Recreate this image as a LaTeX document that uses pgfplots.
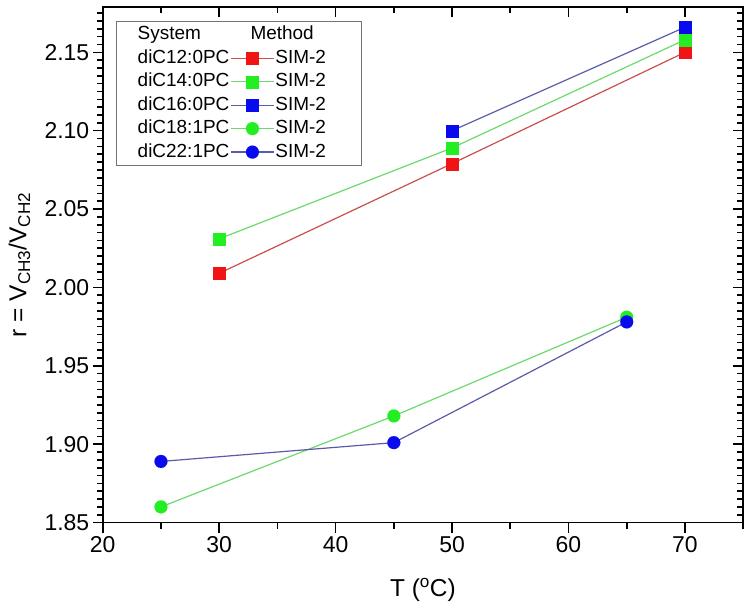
\documentclass[border=0pt]{standalone}
\usepackage{fontspec}
\setmainfont{Liberation Sans}
\usepackage{pgfplots}
\pgfplotsset{compat=1.18}

\definecolor{lred}{HTML}{C94F4F}
\definecolor{mred}{HTML}{F01414}
\definecolor{lgreen}{HTML}{6CD96C}
\definecolor{mgreen}{HTML}{22EE22}
\definecolor{lblue}{HTML}{5A5AAA}
\definecolor{mblue}{HTML}{0A0AEE}

\pgfplotsset{
  common/.style={
    scale only axis, width=642pt, height=517pt,
    xmin=20, xmax=75, ymin=1.85, ymax=2.179,
    xtick={20,30,40,50,60,70},
    ytick={1.85,1.90,1.95,2.00,2.05,2.10,2.15},
    minor xtick={25,35,45,55,65,75},
    minor ytick={1.855,1.860,1.865,1.870,1.875,1.880,1.885,1.890,1.895,1.905,1.910,1.915,1.920,1.925,1.930,1.935,1.940,1.945,1.955,1.960,1.965,1.970,1.975,1.980,1.985,1.990,1.995,2.005,2.010,2.015,2.020,2.025,2.030,2.035,2.040,2.045,2.055,2.060,2.065,2.070,2.075,2.080,2.085,2.090,2.095,2.105,2.110,2.115,2.120,2.125,2.130,2.135,2.140,2.145,2.155,2.160,2.165,2.170,2.175},
    axis line style={line width=1.6pt, black},
    major tick style={black, line width=1.6pt},
    minor tick style={black, line width=1.6pt},
    major tick length=10pt, minor tick length=6pt,
  },
  sA/.style={color=lred, line width=1.2pt, mark=square*, mark size=6pt, mark options={solid, fill=mred, draw=mred, line width=0.1pt}},
  sB/.style={color=lgreen, line width=1.2pt, mark=square*, mark size=6pt, mark options={solid, fill=mgreen, draw=mgreen, line width=0.1pt}},
  sC/.style={color=lblue, line width=1.2pt, mark=square*, mark size=6pt, mark options={solid, fill=mblue, draw=mblue, line width=0.1pt}},
  sD/.style={color=lgreen, line width=1.2pt, mark=*, mark size=6.5pt, mark options={solid, fill=mgreen, draw=mgreen, line width=0.1pt}},
  sE/.style={color=lblue, line width=1.2pt, mark=*, mark size=6.5pt, mark options={solid, fill=mblue, draw=mblue, line width=0.1pt}},
}

\begin{document}
\begin{tikzpicture}
% inward ticks on top and right
\begin{axis}[common, tick align=inside, xtick pos=right, ytick pos=right,
  xticklabels={}, yticklabels={}]
\end{axis}
\begin{axis}[common, tick align=outside, xtick pos=left, ytick pos=left,
  /pgf/number format/assume math mode=true,
  ticklabel style={font=\fontsize{23}{27}\selectfont},
  yticklabel style={/pgf/number format/.cd, fixed, fixed zerofill, precision=2},
  xlabel={T (\textsuperscript{o}C)},
  ylabel={r = V\textsubscript{CH3}/V\textsubscript{CH2}},
  label style={font=\fontsize{24.5}{29}\selectfont},
  xlabel style={at={(axis description cs:0.5,-0.1315)}, anchor=center},
  ylabel style={at={(axis description cs:-0.13,0.5)}, anchor=center},
  legend columns=2,
  legend plot pos=left,
  legend cell align=left,
  legend style={at={(axis description cs:0.0213,0.973)}, anchor=north west,
    draw=black!55, line width=0.8pt, fill=white, inner xsep=20pt, inner ysep=2pt,
    column sep=0pt, row sep=0pt, font=\fontsize{19}{22}\selectfont,
    nodes={inner xsep=1pt, inner ysep=2.75pt, text height=14pt, text depth=4pt}},
  legend image code/.code={\draw[mark repeat=2, mark phase=2] plot coordinates {(0pt,0pt) (21.5pt,0pt) (43pt,0pt)};},
]
\addplot[sA, forget plot] coordinates {(30,2.009) (50,2.079) (70,2.150)};
\addplot[sB, forget plot] coordinates {(30,2.031) (50,2.089) (70,2.158)};
\addplot[sC, forget plot] coordinates {(50,2.100) (70,2.166)};
\addplot[sD, forget plot] coordinates {(25,1.860) (45,1.918) (65,1.981)};
\addplot[sE, forget plot] coordinates {(25,1.889) (45,1.901) (65,1.978)};

\addlegendimage{empty legend}\addlegendentry{System}
\addlegendimage{empty legend}\addlegendentry{\hspace*{-25pt}Method}
\addlegendimage{empty legend}\addlegendentry{diC12:0PC}
\addlegendimage{sA}\addlegendentry{SIM-2\hspace*{14pt}}
\addlegendimage{empty legend}\addlegendentry{diC14:0PC}
\addlegendimage{sB}\addlegendentry{SIM-2}
\addlegendimage{empty legend}\addlegendentry{diC16:0PC}
\addlegendimage{sC}\addlegendentry{SIM-2}
\addlegendimage{empty legend}\addlegendentry{diC18:1PC}
\addlegendimage{sD}\addlegendentry{SIM-2}
\addlegendimage{empty legend}\addlegendentry{diC22:1PC}
\addlegendimage{sE}\addlegendentry{SIM-2}
\end{axis}
\path[use as bounding box] ([xshift=-103pt,yshift=-92pt]current axis.south west) rectangle ([xshift=5pt,yshift=5pt]current axis.north east);
\end{tikzpicture}
\end{document}
